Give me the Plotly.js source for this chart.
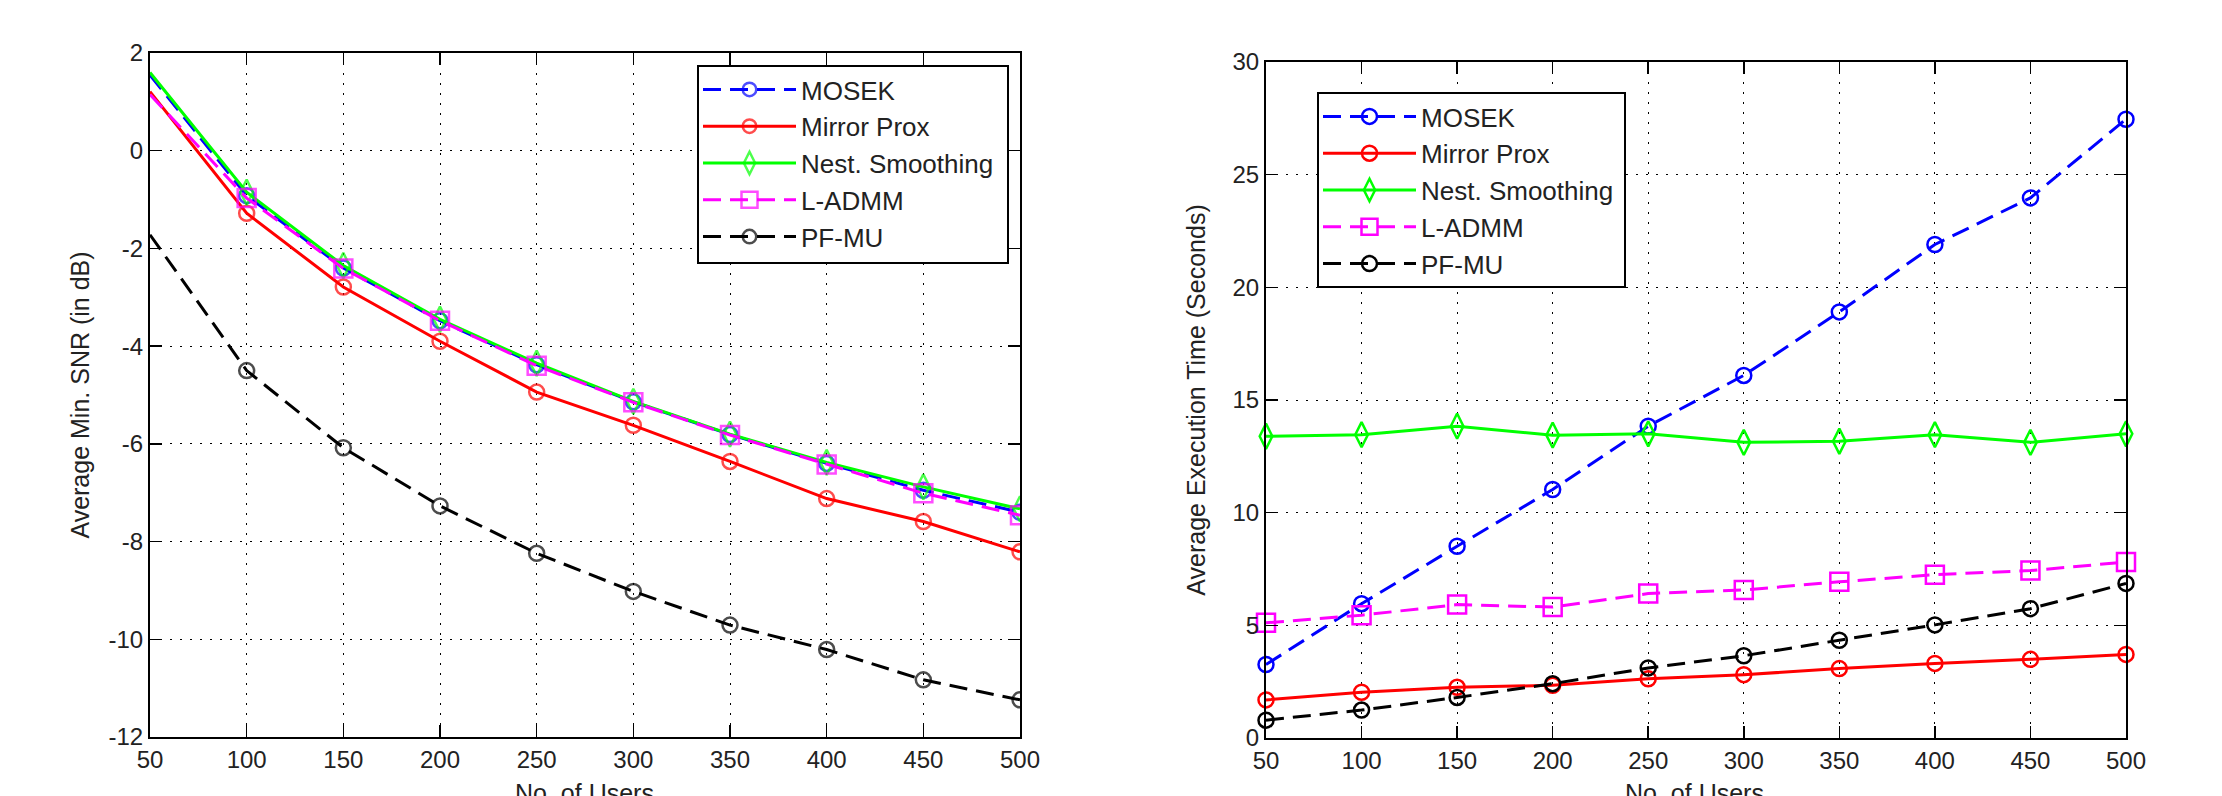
<!DOCTYPE html>
<html>
<head>
<meta charset="utf-8">
<script src="https://cdn.plot.ly/plotly-3.0.1.min.js"></script>
<style>html,body{margin:0;padding:0;background:#fff;}#chart{width:2222px;height:796px;}</style>
</head>
<body>
<div id="chart"></div>
<script>
// ---- data ----
const users = [50, 100, 150, 200, 250, 300, 350, 400, 450, 500];
const seriesNames = ["MOSEK", "Mirror Prox", "Nest. Smoothing", "L-ADMM", "PF-MU"];

// Left: Average Min. SNR (in dB)
const snrMosek  = [1.55, -0.92, -2.40, -3.48, -4.38, -5.14, -5.81, -6.40, -6.95, -7.40];
const snrMirror = [1.21, -1.28, -2.79, -3.90, -4.94, -5.62, -6.36, -7.12, -7.59, -8.21];
const snrNest   = [1.60, -0.85, -2.35, -3.45, -4.35, -5.13, -5.80, -6.38, -6.88, -7.33];
const snrLadmm  = [1.15, -0.97, -2.41, -3.48, -4.40, -5.15, -5.82, -6.42, -7.01, -7.46];
const snrPfmu   = [-1.72, -4.50, -6.08, -7.27, -8.24, -9.02, -9.71, -10.21, -10.83, -11.24];
const snrTickVals = [-12, -10, -8, -6, -4, -2, 0, 2];
const snrTickText = ["-12", "-10", "-8", "-6", "-4", "-2", "0", "2"];

// Right: Average Execution Time (Seconds)
const timeMosek  = [3.26, 5.96, 8.51, 11.03, 13.84, 16.09, 18.91, 21.90, 23.97, 27.46];
const timeMirror = [1.69, 2.03, 2.25, 2.34, 2.63, 2.81, 3.08, 3.31, 3.49, 3.71];
const timeNest   = [13.39, 13.46, 13.84, 13.44, 13.50, 13.12, 13.17, 13.46, 13.12, 13.50];
const timeLadmm  = [5.11, 5.45, 5.92, 5.81, 6.41, 6.57, 6.93, 7.25, 7.43, 7.81];
const timePfmu   = [0.79, 1.24, 1.80, 2.41, 3.11, 3.65, 4.34, 5.02, 5.74, 6.86];

const leftTitle = "Average Min. SNR (in dB)";
const rightTitle = "Average Execution Time (Seconds)";
const xTitle = "No. of Users";

// ---- styles ----
const FONT = "Arial, 'Liberation Sans', Helvetica, sans-serif";
const TXT = "#222";
const DASH = "18px,9px";
const styles = [
  {color: "#0000ff", dash: DASH,    symbol: "circle-open",       size: 15},
  {color: "#ff0000", dash: "solid", symbol: "circle-open",       size: 15},
  {color: "#00ff00", dash: "solid", symbol: "diamond-tall-open", size: 18},
  {color: "#ff00ff", dash: DASH,    symbol: "square-open",       size: 18},
  {color: "#000000", dash: DASH,    symbol: "circle-open",       size: 15}
];

const leftData = [snrMosek, snrMirror, snrNest, snrLadmm, snrPfmu];
const rightData = [timeMosek, timeMirror, timeNest, timeLadmm, timePfmu];

const traces = [];
leftData.forEach((ys, i) => {
  const s = styles[i];
  traces.push({
    x: users, y: ys, xaxis: "x", yaxis: "y", type: "scatter", mode: "lines+markers",
    name: seriesNames[i], legend: "legend",
    line: {color: s.color, width: 3, dash: s.dash},
    marker: {symbol: s.symbol, color: s.color, size: users.map((u, k) => k === 0 ? 0 : s.size), line: {width: 2.5, color: s.color}},
    cliponaxis: true
  });
});
rightData.forEach((ys, i) => {
  const s = styles[i];
  traces.push({
    x: users, y: ys, xaxis: "x2", yaxis: "y2", type: "scatter", mode: "lines+markers",
    name: seriesNames[i], legend: "legend2",
    line: {color: s.color, width: 3, dash: s.dash},
    marker: {symbol: s.symbol, color: s.color, size: s.size, line: {width: 2.5, color: s.color}},
    cliponaxis: false
  });
});

const W = 2222, H = 796;
function axCommon() {
  return {
    showline: true, linecolor: "#000", linewidth: 2, mirror: "ticks",
    ticks: "inside", ticklen: 12, tickwidth: 1.5, tickcolor: "#000",
    showgrid: true, gridcolor: "#000", gridwidth: 1, griddash: "2px,8px",
    zeroline: false, automargin: false,
    tickfont: {family: FONT, size: 24, color: TXT}
  };
}
function legendBox(x0, x1, yTop, yBot) {
  return {type: "rect", xref: "paper", yref: "paper", layer: "above",
    x0: x0 / W, x1: x1 / W, y0: (H - yBot) / H, y1: (H - yTop) / H,
    fillcolor: "#fff", line: {color: "#000", width: 2}};
}
function legendCfg(x, yTop) {
  return {x: x / W, y: (H - yTop) / H, xanchor: "left", yanchor: "top",
    bgcolor: "rgba(0,0,0,0)", borderwidth: 0,
    font: {family: FONT, size: 26, color: TXT}, itemwidth: 93, traceorder: "normal"};
}
function xTitleAnn(cx) {
  return {text: xTitle, xref: "paper", yref: "paper", x: cx / W, y: (H - 777) / H,
    xanchor: "center", yanchor: "top", showarrow: false,
    font: {family: FONT, size: 25, color: TXT}};
}
const layout = {
  width: W, height: H,
  paper_bgcolor: "#fff", plot_bgcolor: "#fff",
  margin: {l: 0, r: 0, t: 0, b: 0},
  showlegend: true,
  font: {family: FONT, size: 24, color: TXT},
  xaxis: Object.assign(axCommon(), {
    domain: [150 / W, 1020 / W], range: [50, 500], dtick: 50, tick0: 50, anchor: "y"
  }),
  yaxis: Object.assign(axCommon(), {
    domain: [(H - 737) / H, (H - 53) / H], range: [-12, 2], anchor: "x",
    tickmode: "array", tickvals: snrTickVals, ticktext: snrTickText,
    title: {text: leftTitle, font: {family: FONT, size: 25, color: TXT}}
  }),
  xaxis2: Object.assign(axCommon(), {
    domain: [1266 / W, 2126 / W], range: [50, 500], dtick: 50, tick0: 50, anchor: "y2"
  }),
  yaxis2: Object.assign(axCommon(), {
    domain: [(H - 738) / H, (H - 62) / H], range: [0, 30], dtick: 5, tick0: 0, anchor: "x2",
    title: {text: rightTitle, font: {family: FONT, size: 25, color: TXT}}
  }),
  annotations: [xTitleAnn(584), xTitleAnn(1694)],
  shapes: [legendBox(698, 1008, 66, 263), legendBox(1318, 1625, 93, 287)],
  legend: legendCfg(698, 66),
  legend2: legendCfg(1318, 93)
};

Plotly.newPlot("chart", traces, layout, {staticPlot: true, displayModeBar: false});
</script>
</body>
</html>
